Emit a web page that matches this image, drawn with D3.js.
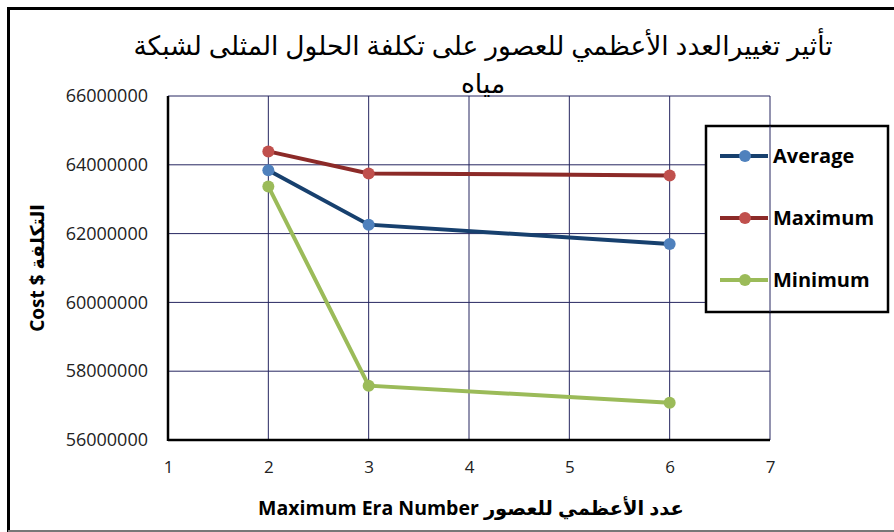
<!DOCTYPE html>
<html>
<head>
<meta charset="utf-8">
<script src="https://cdn.jsdelivr.net/npm/d3@7"></script>
<style>
  body { margin: 0; background: #fff; }
  text { font-family: "Open Sans", "DejaVu Sans", sans-serif; }
</style>
</head>
<body>
<div id="chart"></div>
<script>
// data
var eras = [2, 3, 6];
var average = [63840000, 62260000, 61700000];
var maximum = [64390000, 63750000, 63690000];
var minimum = [63370000, 57580000, 57080000];
var seriesNames = ['Average', 'Maximum', 'Minimum'];
var xTicks = [1, 2, 3, 4, 5, 6, 7];
var yTicks = [56000000, 58000000, 60000000, 62000000, 64000000, 66000000];
var titleLines = ['تأثير تغييرالعدد الأعظمي للعصور على تكلفة الحلول المثلى لشبكة', 'مياه'];

var svgWidth = 894;
var svgHeight = 532;
var margin = { top: 96, right: 124, bottom: 92, left: 168 };
var width = svgWidth - margin.left - margin.right;
var height = svgHeight - margin.top - margin.bottom;

var svg = d3.select('#chart').append('svg')
    .attr('width', svgWidth)
    .attr('height', svgHeight);

// outer frame
svg.append('path')
    .attr('d', 'M8.5,532 V8.5 H894')
    .attr('fill', 'none')
    .attr('stroke', '#000')
    .attr('stroke-width', 3);
svg.append('line')
    .attr('x1', 8).attr('x2', 894).attr('y1', 531).attr('y2', 531)
    .attr('stroke', '#777').attr('stroke-width', 2);

var g = svg.append('g')
    .attr('transform', `translate(${margin.left}, ${margin.top})`);

var x = d3.scaleLinear().domain([1, 7]).range([0, width]);
var y = d3.scaleLinear().domain([56000000, 66000000]).range([height, 0]);

// grid
g.selectAll('.vgrid').data(xTicks).enter().append('line')
    .attr('x1', d => x(d)).attr('x2', d => x(d))
    .attr('y1', 0).attr('y2', height)
    .attr('stroke', '#262660').attr('stroke-width', 1);
g.selectAll('.hgrid').data(yTicks).enter().append('line')
    .attr('x1', 0).attr('x2', width)
    .attr('y1', d => y(d)).attr('y2', d => y(d))
    .attr('stroke', '#262660').attr('stroke-width', 1);

// axes
var yAxis = g.append('g').call(d3.axisLeft(y).tickValues(yTicks).tickSize(0).tickPadding(20).tickFormat(d3.format('d')));
var xAxis = g.append('g').attr('transform', `translate(0, ${height})`)
    .call(d3.axisBottom(x).tickValues(xTicks).tickSize(0).tickPadding(21).tickFormat(d3.format('d')));
[xAxis, yAxis].forEach(a => {
    a.select('.domain').remove();
    a.selectAll('text').attr('font-size', 18).attr('fill', '#222')
        .attr('font-family', '"Open Sans", sans-serif');
});
xAxis.selectAll('text').attr('font-size', 17);
g.append('line').attr('x1', 0).attr('x2', 0).attr('y1', 0).attr('y2', height + 1)
    .attr('stroke', '#000').attr('stroke-width', 2.5);
g.append('line').attr('x1', 0).attr('x2', width).attr('y1', height).attr('y2', height)
    .attr('stroke', '#000').attr('stroke-width', 2.5);

// series
var series = [
    { name: seriesNames[0], values: average, line: '#17406e', dot: '#4f81bd' },
    { name: seriesNames[1], values: maximum, line: '#8c2a28', dot: '#c0504d' },
    { name: seriesNames[2], values: minimum, line: '#9bbb59', dot: '#9bbb59' }
];
var line = d3.line().x((d, i) => x(eras[i])).y(d => y(d));
series.forEach(s => {
    g.append('path').datum(s.values)
        .attr('d', line)
        .attr('fill', 'none')
        .attr('stroke', s.line)
        .attr('stroke-width', 4);
    g.selectAll(null).data(s.values).enter().append('circle')
        .attr('cx', (d, i) => x(eras[i]))
        .attr('cy', d => y(d))
        .attr('r', 6)
        .attr('fill', s.dot);
});

// title
svg.selectAll('.title').data(titleLines).enter().append('text')
    .attr('x', 483)
    .attr('y', (d, i) => 55 + i * 38)
    .attr('text-anchor', 'middle')
    .attr('direction', 'rtl')
    .attr('font-family', '"Liberation Sans", "DejaVu Sans", sans-serif')
    .attr('font-size', 26.5)
    .attr('fill', '#000')
    .text(d => d);

// axis titles
svg.append('text')
    .attr('x', 471).attr('y', 515)
    .attr('text-anchor', 'middle')
    .attr('font-size', 19.5).attr('font-weight', 'bold')
    .text('Maximum Era Number عدد الأعظمي للعصور');
svg.append('text')
    .attr('transform', 'translate(44, 268) rotate(-90)')
    .attr('text-anchor', 'middle')
    .attr('font-size', 19).attr('font-weight', 'bold')
    .text('Cost $ التكلفة');

// legend
var legend = svg.append('g');
legend.append('rect')
    .attr('x', 706).attr('y', 126).attr('width', 182).attr('height', 186)
    .attr('fill', '#fff').attr('stroke', '#000').attr('stroke-width', 2.5);
// the x = 7 gridline shows through the legend box in the reference
legend.append('line')
    .attr('x1', margin.left + x(7)).attr('x2', margin.left + x(7))
    .attr('y1', 126).attr('y2', 312)
    .attr('stroke', '#262660').attr('stroke-width', 1);
var legendRows = legend.selectAll('.row').data(series).enter().append('g')
    .attr('transform', (d, i) => `translate(720, ${156 + i * 62})`);
legendRows.append('line')
    .attr('x1', 0).attr('x2', 48)
    .attr('stroke', d => d.line).attr('stroke-width', 4);
legendRows.append('circle')
    .attr('cx', 25).attr('r', 6).attr('fill', d => d.dot);
legendRows.append('text')
    .attr('x', 53).attr('dy', '0.35em')
    .attr('font-size', 20).attr('font-weight', 'bold')
    .text(d => d.name);
</script>
</body>
</html>
